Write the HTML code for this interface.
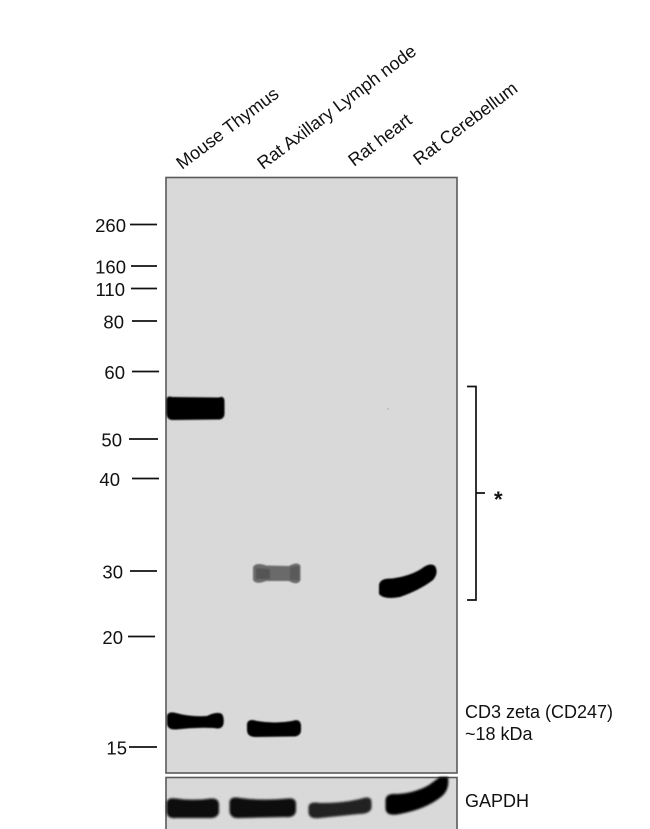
<!DOCTYPE html>
<html>
<head>
<meta charset="utf-8">
<style>
  html, body { margin:0; padding:0; background:#ffffff; }
  body { width:650px; height:829px; overflow:hidden; }
  svg { display:block; }
  text { font-family: "Liberation Sans", Arial, sans-serif; fill:#111; }
</style>
</head>
<body>
<svg width="650" height="829" viewBox="0 0 650 829" xmlns="http://www.w3.org/2000/svg">
  <defs>
    <filter id="b1" x="-20%" y="-50%" width="140%" height="200%">
      <feGaussianBlur stdDeviation="0.9"/>
    </filter>
    <filter id="b2" x="-20%" y="-50%" width="140%" height="200%">
      <feGaussianBlur stdDeviation="1.1"/>
    </filter>
  </defs>

  <!-- Lane labels -->
  <text font-size="18" transform="translate(182,170) rotate(-37)">Mouse Thymus</text>
  <text font-size="18" transform="translate(263,170) rotate(-37)">Rat Axillary Lymph node</text>
  <text font-size="18" transform="translate(354,167) rotate(-37)">Rat heart</text>
  <text font-size="18" transform="translate(419,166) rotate(-37)">Rat Cerebellum</text>

  <!-- Main blot panel -->
  <rect x="166" y="177.5" width="291" height="595.5" fill="#d9d9d9" stroke="#5a5a5a" stroke-width="1.6"/>
  <!-- GAPDH panel -->
  <rect x="166" y="777.5" width="291" height="60" fill="#d9d9d9" stroke="#5a5a5a" stroke-width="1.6"/>

  <!-- Marker ticks -->
  <g stroke="#111" stroke-width="1.8">
    <line x1="130" y1="224.5" x2="157" y2="224.5"/>
    <line x1="131" y1="266" x2="157" y2="266"/>
    <line x1="131" y1="288.5" x2="157" y2="288.5"/>
    <line x1="132" y1="321" x2="157" y2="321"/>
    <line x1="132" y1="371.5" x2="159" y2="371.5"/>
    <line x1="129" y1="439" x2="158" y2="439"/>
    <line x1="132" y1="478.5" x2="159" y2="478.5"/>
    <line x1="130" y1="571" x2="157" y2="571"/>
    <line x1="128" y1="636.5" x2="155" y2="636.5"/>
    <line x1="129" y1="747" x2="157" y2="747"/>
  </g>
  <g font-size="18.5" text-anchor="end">
    <text x="126" y="232">260</text>
    <text x="126" y="273.5">160</text>
    <text x="125" y="296">110</text>
    <text x="124" y="328.5">80</text>
    <text x="125" y="379">60</text>
    <text x="122" y="446.5">50</text>
    <text x="120" y="486">40</text>
    <text x="123" y="578.5">30</text>
    <text x="123" y="644">20</text>
    <text x="127" y="754.5">15</text>
  </g>

  <!-- Bands main panel -->
  <g filter="url(#b1)">
    <!-- Mouse thymus ~55 -->
    <path d="M166.5,401 Q166,395 172,397 L219,397.5 Q224.5,395 224.5,402 L224.5,414 Q224,420 217,419.5 L173,420 Q166.5,420 166.5,413 Z" fill="#050505"/>
    <!-- Rat axillary ~30 (faint) -->
    <path d="M253,567 Q256,562 266,565.5 L289,566 Q298,561 300.5,566 L300.5,580 Q298,586 289,581 L266,581 Q256,585 253,580 Z" fill="#6a6a6a"/>
    <path d="M256,568 L270,569 L270,579 L256,579 Z" fill="#555"/>
    <path d="M290,567 L299,566 L299,580 L290,580 Z" fill="#5a5a5a"/>
    <!-- Rat cerebellum ~28 -->
    <path d="M379,585 Q380,578 392,578.5 Q410,576 421,569 Q430,562 435,566 Q439,573 433,580 Q420,590 400,597 Q384,600 379,594 Z" fill="#050505"/>
    <!-- CD3 zeta bands -->
    <path d="M167,716 Q168,711 176,713 Q190,717 207,716 Q217,711 222,714 Q224.5,718 223.5,724 Q222,730 214,728 Q195,727 176,729.5 Q167,730 167,723 Z" fill="#050505"/>
    <path d="M247,724 Q248,718 257,721 Q275,724 292,721 Q300,718 301,725 L301,731 Q300,737 292,736.5 L256,737 Q247,737 247,730 Z" fill="#050505"/>
  </g>
  <!-- faint speck -->
  <circle cx="388" cy="409" r="1" fill="#bdbdbd"/>

  <!-- GAPDH bands -->
  <g filter="url(#b2)">
    <path d="M166.5,803 Q167,797 176,798.5 Q193,801 211,798.5 Q219,798 219,805 L219,812 Q218,818.5 209,818 L176,818 Q166.5,819 166.5,811 Z" fill="#080808"/>
    <path d="M229.5,802 Q230,796 240,798 Q262,801 288,798.5 Q296.5,797.5 296,805 L296,811 Q295,818 285,817 L240,818 Q229.5,819 229.5,810 Z" fill="#080808"/>
    <path d="M308.5,807 Q309,801 320,803 Q340,803.5 360,799 Q371.5,795 371.5,802 L371.5,808 Q370,814 359,814 Q340,816 320,818 Q308.5,819.5 308.5,812 Z" fill="#222"/>
    <path d="M385.5,800 Q386,793 397,794 Q415,793 429,785 Q437,779 440,777 L448,777 Q450,790 441,797 Q426,809 400,814 Q385.5,817 385.5,808 Z" fill="#030303"/>
  </g>

  <!-- Bracket -->
  <path d="M467,386.5 H476 V600 H467 M476,493 H485" fill="none" stroke="#111" stroke-width="1.7"/>
  <text x="494" y="507" font-size="22" font-weight="bold">*</text>

  <!-- Right labels -->
  <text x="465" y="718" font-size="18">CD3 zeta (CD247)</text>
  <text x="465" y="740" font-size="18">~18 kDa</text>
  <text x="465" y="807" font-size="18">GAPDH</text>
</svg>
</body>
</html>
